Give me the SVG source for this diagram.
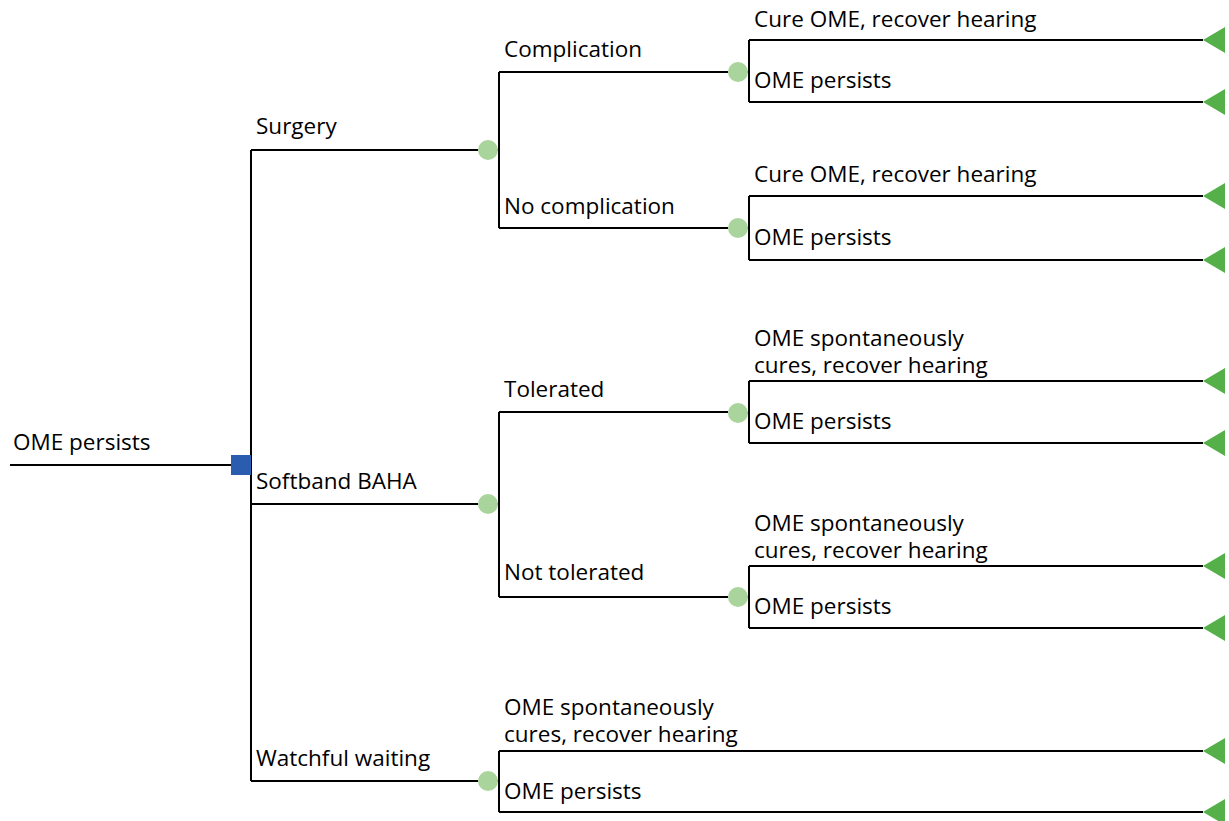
<svg xmlns="http://www.w3.org/2000/svg" width="1229" height="821" viewBox="0 0 1229 821">
<style>
.ln{fill:none;stroke:#000;stroke-width:2}
.t{font-family:"Open Sans","Noto Sans",sans-serif;font-size:22.5px;fill:#000}
.ch{fill:#a9d49c}
.tm{fill:#55b04a}
.dc{fill:#2a5cb0}
</style>
<defs>
<polygon id="tri" points="0,0 22,-13 22,13"/>
<circle id="cn" r="10"/>
</defs>
<rect width="1229" height="821" fill="#fff"/>
<g id="connectors">
<path class="ln" d="M10,465H231"/>
<path class="ln" d="M251,150V781M251,150H478M251,504H478M251,781H478"/>
<path class="ln" d="M499,72V228M488,150H499M499,72H728M499,228H728"/>
<path class="ln" d="M499,412V597M488,504H499M499,412H728M499,597H728"/>
<path class="ln" d="M738,72H749M749,40V102M749,40H1203M749,102H1203"/>
<path class="ln" d="M738,228H749M749,196V260M749,196H1203M749,260H1203"/>
<path class="ln" d="M738,413H749M749,381V443M749,381H1203M749,443H1203"/>
<path class="ln" d="M738,597H749M749,566V628M749,566H1203M749,628H1203"/>
<path class="ln" d="M488,781H499M499,751V812M499,751H1203M499,812H1203"/>
</g>
<g id="root"><text class="t" x="13" y="450">OME persists</text></g>
<g id="decision"><rect class="dc" x="231" y="455" width="20" height="20"/></g>
<g id="surgery"><text class="t" x="256" y="134">Surgery</text><use href="#cn" class="ch" x="488" y="150"/></g>
<g id="softband"><text class="t" x="256" y="489">Softband BAHA</text><use href="#cn" class="ch" x="488" y="504"/></g>
<g id="watchful"><text class="t" x="256" y="766">Watchful waiting</text><use href="#cn" class="ch" x="488" y="781"/>
<text class="t" x="504" y="715">OME spontaneously</text><text class="t" x="504" y="742">cures, recover hearing</text><text class="t" x="504" y="799">OME persists</text></g>
<g id="complication"><text class="t" x="504" y="57">Complication</text><use href="#cn" class="ch" x="738" y="72"/>
<text class="t" x="754" y="27">Cure OME, recover hearing</text><text class="t" x="754" y="88">OME persists</text></g>
<g id="nocomplication"><text class="t" x="504" y="214">No complication</text><use href="#cn" class="ch" x="738" y="228"/>
<text class="t" x="754" y="182">Cure OME, recover hearing</text><text class="t" x="754" y="245">OME persists</text></g>
<g id="tolerated"><text class="t" x="504" y="397">Tolerated</text><use href="#cn" class="ch" x="738" y="413"/>
<text class="t" x="754" y="346">OME spontaneously</text><text class="t" x="754" y="373">cures, recover hearing</text><text class="t" x="754" y="429">OME persists</text></g>
<g id="nottolerated"><text class="t" x="504" y="580">Not tolerated</text><use href="#cn" class="ch" x="738" y="597"/>
<text class="t" x="754" y="531">OME spontaneously</text><text class="t" x="754" y="558">cures, recover hearing</text><text class="t" x="754" y="614">OME persists</text></g>
<g id="terminals" class="tm">
<use href="#tri" x="1203" y="40"/><use href="#tri" x="1203" y="102"/>
<use href="#tri" x="1203" y="196"/><use href="#tri" x="1203" y="260"/>
<use href="#tri" x="1203" y="381"/><use href="#tri" x="1203" y="443"/>
<use href="#tri" x="1203" y="566"/><use href="#tri" x="1203" y="628"/>
<use href="#tri" x="1203" y="751"/><use href="#tri" x="1203" y="812"/>
</g>
</svg>
